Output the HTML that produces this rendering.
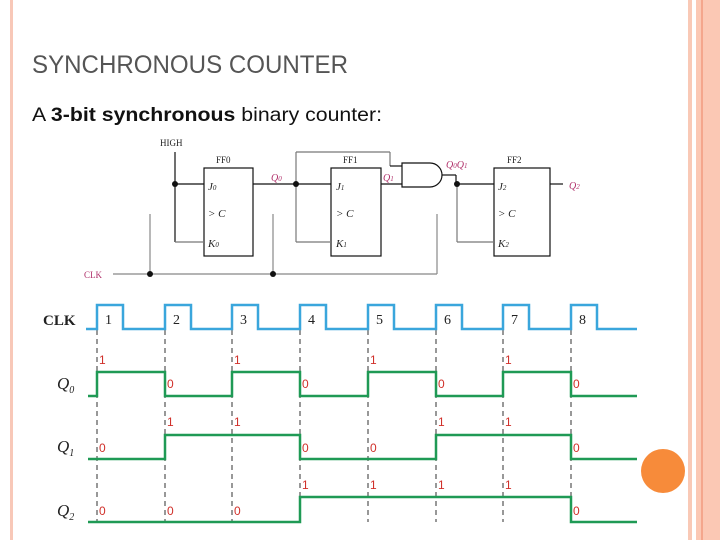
<!DOCTYPE html>
<html><head><meta charset="utf-8"><style>
html,body{margin:0;padding:0;background:#fff;}
svg{display:block;}
</style></head><body>
<svg width="720" height="540" viewBox="0 0 720 540" xmlns="http://www.w3.org/2000/svg" font-family="Liberation Sans, sans-serif">
<rect width="720" height="540" fill="#fff"/>
<!-- borders -->
<rect x="10" y="0" width="3" height="540" fill="#f8c8b8"/>
<rect x="688" y="0" width="4" height="540" fill="#f9c9b6"/>
<rect x="696" y="0" width="24" height="540" fill="#fbc8b4"/>
<rect x="701" y="0" width="2" height="540" fill="#f4a68c"/>
<circle cx="663" cy="471" r="22" fill="#f78b3a"/>
<!-- title -->
<text x="32" y="73" font-size="25" fill="#555" textLength="316" lengthAdjust="spacingAndGlyphs">SYNCHRONOUS COUNTER</text>
<text x="32" y="121" font-size="19" fill="#111" textLength="350" lengthAdjust="spacingAndGlyphs">A <tspan font-weight="bold">3-bit synchronous</tspan> binary counter:</text>

<!-- circuit -->
<g stroke="#111" stroke-width="1.2" fill="none">
<rect x="204" y="168" width="49" height="88"/>
<rect x="331" y="168" width="50" height="88"/>
<rect x="494" y="168" width="56" height="88"/>
<!-- HIGH -->
<line x1="175" y1="152" x2="175" y2="242"/>
<line x1="175" y1="184" x2="204" y2="184"/>
<line x1="175" y1="242" x2="204" y2="242" stroke="#777"/>
<!-- Q0 -->
<line x1="253" y1="184" x2="331" y2="184"/>
<line x1="296" y1="152" x2="296" y2="242" stroke="#777"/>
<line x1="296" y1="242" x2="331" y2="242" stroke="#777"/>
<line x1="296" y1="152" x2="390" y2="152" stroke="#777"/>
<line x1="390" y1="152" x2="390" y2="166" stroke="#777"/>
<line x1="390" y1="166" x2="402" y2="166"/>
<!-- Q1 to AND -->
<line x1="381" y1="184" x2="402" y2="184"/>
<path d="M402,163 H430 A12,12 0 0 1 430,187 H402 Z"/>
<line x1="442" y1="175" x2="456" y2="175"/>
<line x1="456" y1="175" x2="456" y2="184"/>
<line x1="457" y1="184" x2="494" y2="184"/>
<line x1="457" y1="184" x2="457" y2="242" stroke="#777"/>
<line x1="457" y1="242" x2="494" y2="242" stroke="#777"/>
<line x1="550" y1="184" x2="563" y2="184"/>
<!-- CLK -->
<line x1="113" y1="274" x2="437" y2="274" stroke="#888"/>
<line x1="437" y1="274" x2="437" y2="214" stroke="#888"/>
<line x1="150" y1="214" x2="150" y2="274" stroke="#888"/>
<line x1="273" y1="214" x2="273" y2="274" stroke="#888"/>
</g>
<g fill="#111">
<circle cx="175" cy="184" r="3"/>
<circle cx="296" cy="184" r="3"/>
<circle cx="457" cy="184" r="3"/>
<circle cx="150" cy="274" r="3"/>
<circle cx="273" cy="274" r="3"/>
</g>
<g font-family="Liberation Serif, serif" font-size="9" fill="#222">
<text x="160" y="146">HIGH</text>
<text x="216" y="163">FF0</text>
<text x="343" y="163">FF1</text>
<text x="507" y="163">FF2</text>
<g font-style="italic" font-size="11">
<text x="208" y="190">J<tspan font-size="7">0</tspan></text>
<text x="208" y="217">&gt; C</text>
<text x="208" y="247">K<tspan font-size="7">0</tspan></text>
<text x="336" y="190">J<tspan font-size="7">1</tspan></text>
<text x="336" y="217">&gt; C</text>
<text x="336" y="247">K<tspan font-size="7">1</tspan></text>
<text x="498" y="190">J<tspan font-size="7">2</tspan></text>
<text x="498" y="217">&gt; C</text>
<text x="498" y="247">K<tspan font-size="7">2</tspan></text>
</g>
</g>
<g font-family="Liberation Serif, serif" font-size="10" font-style="italic" fill="#b0306a">
<text x="271" y="181">Q<tspan font-size="7">0</tspan></text>
<text x="383" y="181">Q<tspan font-size="7">1</tspan></text>
<text x="446" y="168">Q<tspan font-size="7">0</tspan>Q<tspan font-size="7">1</tspan></text>
<text x="569" y="189">Q<tspan font-size="7">2</tspan></text>
<text x="84" y="278" font-style="normal" font-size="9">CLK</text>
</g>

<!-- timing -->
<g stroke="#777" stroke-width="1.5" stroke-dasharray="5,4">
<line x1="97" y1="330" x2="97" y2="522"/>
<line x1="165" y1="330" x2="165" y2="522"/>
<line x1="232" y1="330" x2="232" y2="522"/>
<line x1="300" y1="330" x2="300" y2="522"/>
<line x1="368" y1="330" x2="368" y2="522"/>
<line x1="436" y1="330" x2="436" y2="522"/>
<line x1="503" y1="330" x2="503" y2="522"/>
<line x1="571" y1="330" x2="571" y2="522"/>
</g>
<g fill="none" stroke-width="2.5">
<path stroke="#3aa6dc" d="M86,329 H97 V305 H123 V329 H165 V305 H191 V329 H232 V305 H258 V329 H300 V305 H326 V329 H368 V305 H394 V329 H436 V305 H462 V329 H503 V305 H529 V329 H571 V305 H597 V329 H637"/>
<path stroke="#1f9a55" d="M88,396 H97 V372 H165 V396 H232 V372 H300 V396 H368 V372 H436 V396 H503 V372 H571 V396 H637"/>
<path stroke="#1f9a55" d="M88,459 H165 V435 H300 V459 H436 V435 H571 V459 H637"/>
<path stroke="#1f9a55" d="M88,522 H300 V497 H571 V522 H637"/>
</g>
<g font-family="Liberation Serif, serif" fill="#222">
<text x="43" y="325" font-size="15" font-weight="bold">CLK</text>
<g font-size="14">
<text x="105" y="324">1</text><text x="173" y="324">2</text><text x="240" y="324">3</text><text x="308" y="324">4</text>
<text x="376" y="324">5</text><text x="444" y="324">6</text><text x="511" y="324">7</text><text x="579" y="324">8</text>
</g>
<g font-style="italic" font-size="17">
<text x="57" y="389">Q<tspan font-size="10" dy="4">0</tspan></text>
<text x="57" y="452">Q<tspan font-size="10" dy="4">1</tspan></text>
<text x="57" y="516">Q<tspan font-size="10" dy="4">2</tspan></text>
</g>
</g>
<g font-size="12" fill="#d0302a">
<text x="99" y="364">1</text><text x="167" y="388">0</text><text x="234" y="364">1</text><text x="302" y="388">0</text>
<text x="370" y="364">1</text><text x="438" y="388">0</text><text x="505" y="364">1</text><text x="573" y="388">0</text>
<text x="99" y="452">0</text><text x="167" y="426">1</text><text x="234" y="426">1</text><text x="302" y="452">0</text>
<text x="370" y="452">0</text><text x="438" y="426">1</text><text x="505" y="426">1</text><text x="573" y="452">0</text>
<text x="99" y="515">0</text><text x="167" y="515">0</text><text x="234" y="515">0</text><text x="302" y="489">1</text>
<text x="370" y="489">1</text><text x="438" y="489">1</text><text x="505" y="489">1</text><text x="573" y="515">0</text>
</g>
</svg>
</body></html>
